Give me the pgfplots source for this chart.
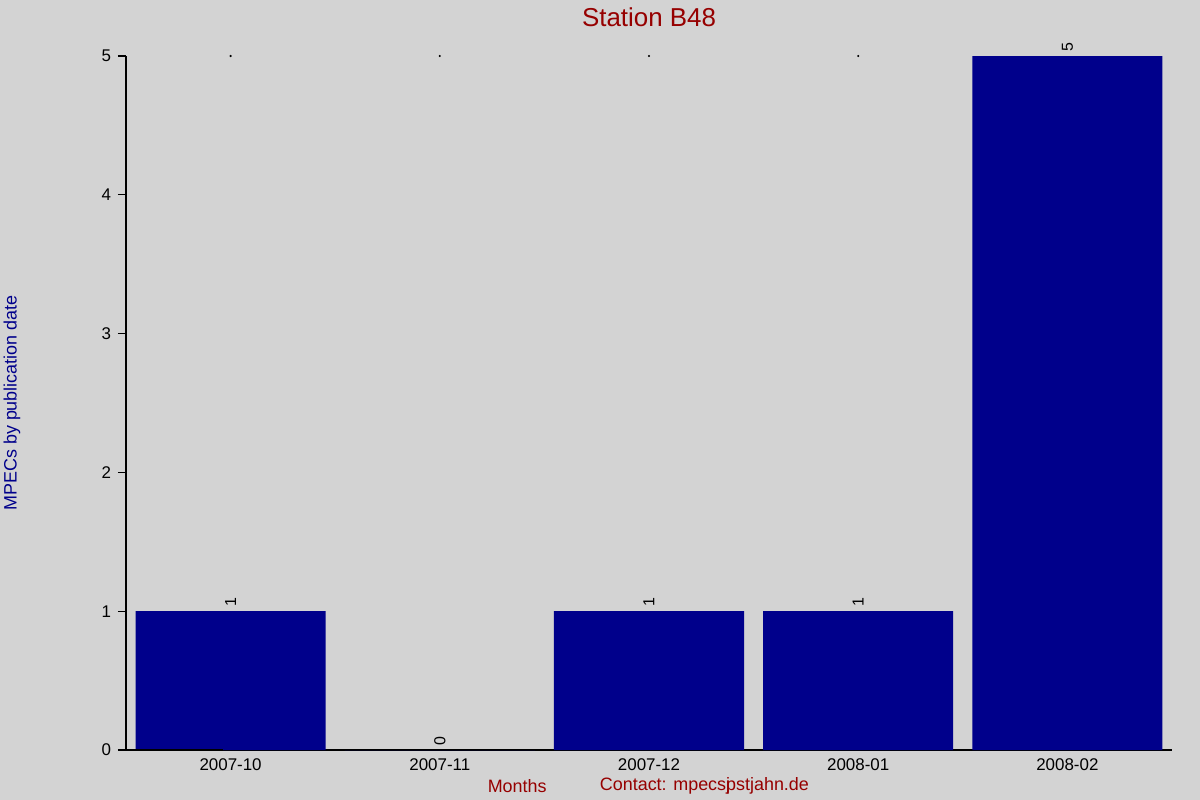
\documentclass[border=0pt]{standalone}
\usepackage{pgfplots}
\pgfplotsset{compat=1.18}
\usepackage{fontspec}
\setmainfont{Liberation Sans}
\definecolor{bg}{RGB}{211,211,211}
\definecolor{barblue}{RGB}{0,0,139}
\definecolor{darkred}{RGB}{150,0,0}
\begin{document}
\begin{tikzpicture}
\path[use as bounding box, fill=bg] (-63bp,-25bp) rectangle (537bp,375bp);
\begin{axis}[
  scale only axis,
  width=523bp, height=347bp,
  at={(0,0)}, anchor=south west,
  axis x line=bottom, axis y line=left,
  axis line style={-, line width=0.6pt},
  xmin=-0.5, xmax=4.5, ymin=0, ymax=5,
  clip=false,
  xtick={0,1,2,3,4},
  xticklabels={2007-10,2007-11,2007-12,2008-01,2008-02},
  x tick style={draw=none},
  ytick={0,1,2,3,4,5},
  y tick style={black, line width=0.6pt},
  tick align=outside,
  major tick length=4bp,
  tick label style={font=\fontsize{8.5}{10}\selectfont, text=black},
  /pgf/number format/assume math mode=true,
  xticklabel style={yshift=3bp},
  title={Station B48},
  title style={font=\fontsize{13}{15}\selectfont, text=darkred, at={(axis description cs:0.5,1)}, anchor=center, yshift=13.5bp},
  ylabel={MPECs by publication date},
  ylabel style={font=\fontsize{9}{11}\selectfont, text=barblue, at={(axis description cs:-0.109,0.5)}, anchor=center},
]
\addplot[ybar, bar width=95bp, fill=barblue, draw=none,
  nodes near coords,
  every node near coord/.append style={rotate=90, anchor=west, font=\fontsize{8}{9}\selectfont, text=black, inner sep=2bp}]
  coordinates {(0,1) (1,0) (2,1) (3,1) (4,5)};
\addplot[only marks, mark=*, mark size=0.3pt, black] coordinates {(0,5) (1,5) (2,5) (3,5)};
\draw[line width=0.6pt] (axis cs:-0.5,0) -- ++(-4bp,0);
\node[font=\fontsize{9}{11}\selectfont, text=darkred] at ([yshift=-18bp]axis description cs:0.374,0) {Months};
\node[font=\fontsize{9}{11}\selectfont, text=darkred] at ([yshift=-18bp]axis description cs:0.553,0) {Contact: mpecs\rlap{j}pstjahn.de};
\end{axis}
\end{tikzpicture}
\end{document}
